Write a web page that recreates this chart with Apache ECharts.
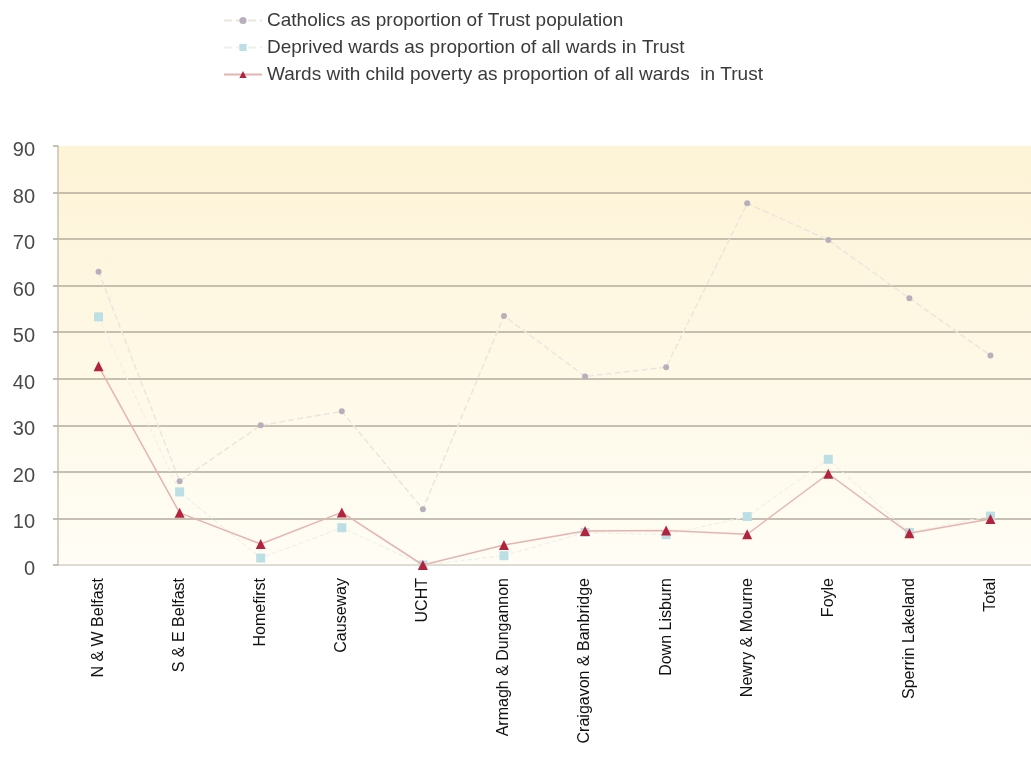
<!DOCTYPE html>
<html>
<head>
<meta charset="utf-8">
<script src="https://cdn.jsdelivr.net/npm/echarts@6/dist/echarts.min.js"></script>
<style>
  html, body { margin: 0; padding: 0; background: #fff; }
  #chart { width: 1031px; height: 757px; }
</style>
</head>
<body>
<div id="chart"></div>
<script>
// Health and social care Trusts
const categories = [
  'N & W Belfast', 'S & E Belfast', 'Homefirst', 'Causeway', 'UCHT',
  'Armagh & Dungannon', 'Craigavon & Banbridge', 'Down Lisburn',
  'Newry & Mourne', 'Foyle', 'Sperrin Lakeland', 'Total'
];

const seriesNames = [
  'Catholics as proportion of Trust population',
  'Deprived wards as proportion of all wards in Trust',
  'Wards with child poverty as proportion of all wards  in Trust'
];

// Percentages per Trust
const catholics     = [63, 18, 30, 33, 12, 53.5, 40.5, 42.5, 77.7, 69.8, 57.3, 45];
const deprivedWards = [53.3, 15.7, 1.5, 8, 0, 2, 7, 6.5, 10.4, 22.7, 7, 10.5];
const childPoverty  = [42.7, 11.2, 4.5, 11.3, 0, 4.3, 7.3, 7.4, 6.6, 19.6, 6.8, 9.9];

// Value axis ticks
const yMin = 0, yMax = 90, yStep = 10;

const FONT = '"Liberation Sans", Arial, sans-serif';

const chart = echarts.init(document.getElementById('chart'), null, { renderer: 'canvas' });

// Top gridline (90) is left out; the others are taupe
const gridColors = [];
for (let v = yMin; v <= yMax; v += yStep) {
  gridColors.push(v === yMax ? 'rgba(0,0,0,0)' : (v === yMin ? '#d6d2ca' : '#b3ac9e'));
}

chart.setOption({
  backgroundColor: '#ffffff',
  animation: false,
  legend: {
    orient: 'vertical',
    left: 218,
    top: 6,
    itemGap: 8,
    itemWidth: 38,
    itemHeight: 9,
    textStyle: { fontFamily: FONT, fontSize: 19, color: '#3a3a3a' },
    data: seriesNames
  },
  grid: {
    left: 58,
    right: -5,
    top: 146,
    bottom: 192,
    show: true,
    borderWidth: 0,
    backgroundColor: {
      type: 'linear', x: 0, y: 0, x2: 0, y2: 1,
      colorStops: [
        { offset: 0, color: '#fdf3d6' },
        { offset: 1, color: '#fffdf5' }
      ]
    }
  },
  xAxis: {
    type: 'category',
    data: categories,
    boundaryGap: true,
    axisLine: { show: true, lineStyle: { color: '#dedad2', width: 1 } },
    axisTick: { show: false },
    axisLabel: {
      interval: 0,
      rotate: 90,
      margin: 13,
      fontFamily: FONT,
      fontSize: 16,
      color: '#111'
    }
  },
  yAxis: {
    type: 'value',
    min: yMin,
    max: yMax,
    interval: yStep,
    axisLine: { show: true, lineStyle: { color: '#c9c1b2', width: 1.5 } },
    axisTick: { show: true, length: 5, lineStyle: { color: '#b3ac9e', width: 1.5 } },
    axisLabel: {
      margin: 23,
      verticalAlign: 'top',
      lineHeight: 9,
      fontFamily: FONT,
      fontSize: 20,
      color: '#4a4a4a'
    },
    splitLine: { show: true, lineStyle: { color: gridColors, width: 1.6 } }
  },
  series: [
    {
      name: seriesNames[0],
      type: 'line',
      data: catholics,
      symbol: 'circle',
      symbolSize: 6,
      itemStyle: { color: '#b7b0bb' },
      lineStyle: { color: '#ebe6dc', width: 1.5, type: 'dashed' },
      z: 2
    },
    {
      name: seriesNames[1],
      type: 'line',
      data: deprivedWards,
      symbol: 'rect',
      symbolSize: 9,
      itemStyle: { color: '#bcdfe6' },
      lineStyle: { color: '#eff1e8', width: 1.2, type: 'dashed' },
      z: 3
    },
    {
      name: seriesNames[2],
      type: 'line',
      data: childPoverty,
      symbol: 'triangle',
      symbolSize: 10,
      itemStyle: { color: '#b2243e' },
      lineStyle: { color: '#e6b4b0', width: 1.5 },
      z: 4
    }
  ]
});
</script>
</body>
</html>
